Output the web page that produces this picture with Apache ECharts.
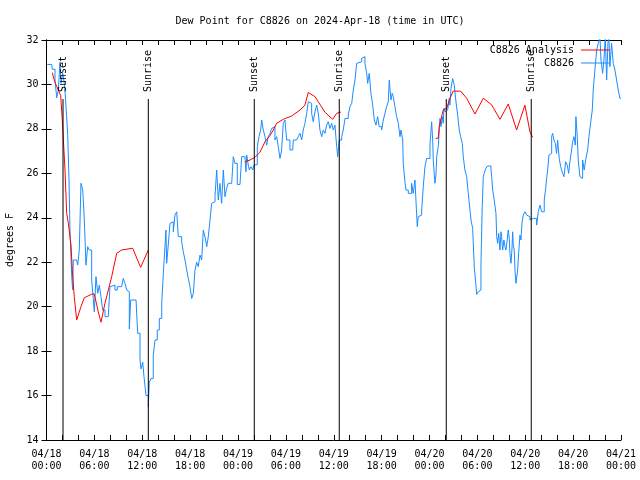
<!DOCTYPE html>
<html>
<head>
<meta charset="utf-8">
<script src="https://cdn.jsdelivr.net/npm/echarts@6/dist/echarts.min.js"></script>
<style>html,body{margin:0;padding:0;background:#fff}#c{width:640px;height:480px}</style>
</head>
<body>
<div id="c"></div>
<script>
// Hours since 2024-04-18 00:00 UTC
const obsHours = [0.10,0.65,0.73,1.07,1.28,1.48,1.69,1.82,2.03,2.23,2.32,2.53,2.66,2.82,2.94,3.16,3.28,3.36,3.78,3.91,4.11,4.32,4.54,4.74,4.95,5.16,5.36,5.66,5.86,5.99,6.20,6.42,6.62,6.83,7.04,7.33,7.74,7.96,8.17,8.58,8.87,9.42,9.62,9.84,10.05,10.25,10.38,10.55,11.22,11.43,11.72,11.84,12.06,12.22,12.47,12.76,12.88,13.10,13.38,13.60,13.88,14.14,14.44,14.64,14.85,14.97,15.06,15.26,15.48,15.69,15.89,16.10,16.32,16.52,16.73,16.94,17.14,17.36,17.57,17.77,17.98,18.20,18.40,18.61,18.82,19.02,19.24,19.45,19.65,19.86,20.08,20.28,20.49,20.70,20.90,21.12,21.33,21.53,21.74,21.95,22.16,22.37,22.58,22.78,23.21,23.41,23.62,23.91,24.25,24.46,24.87,25.00,25.09,25.29,25.41,25.63,25.84,26.00,26.21,26.42,26.63,26.84,26.97,27.17,27.38,27.59,27.79,28.01,28.22,28.42,28.63,28.85,29.05,29.26,29.47,29.67,29.89,30.10,30.51,30.85,30.93,31.35,31.55,31.77,31.98,32.18,32.39,32.61,32.81,33.02,33.23,33.43,33.65,33.86,34.06,34.27,34.49,34.69,34.90,35.11,35.31,35.53,35.74,35.94,36.15,36.37,36.49,36.69,37.00,37.19,37.41,37.82,38.03,38.25,38.45,38.66,38.87,39.07,39.50,39.70,39.91,40.13,40.25,40.45,40.66,40.88,41.08,41.29,41.50,41.70,42.00,42.21,42.42,42.63,42.83,42.96,43.17,43.33,43.46,43.67,43.88,44.09,44.30,44.42,44.64,44.71,44.92,45.05,45.34,45.55,45.76,45.96,46.18,46.30,46.47,46.59,46.80,47.02,47.22,47.43,47.64,47.84,48.06,48.27,48.40,48.47,48.68,48.81,48.90,49.10,49.31,49.44,49.60,49.72,49.81,49.94,50.15,50.28,50.35,50.48,50.56,50.69,50.78,50.90,50.98,51.10,51.32,51.53,51.73,51.90,52.11,52.23,52.44,52.66,52.86,53.07,53.20,53.41,53.48,53.61,53.82,53.91,54.11,54.32,54.45,54.61,54.74,54.86,55.07,55.29,55.49,55.70,55.79,55.92,56.08,56.20,56.33,56.42,56.54,56.67,56.83,56.96,57.04,57.17,57.33,57.46,57.58,57.74,57.87,58.00,58.08,58.21,58.33,58.42,58.50,58.62,58.71,58.83,58.92,59.05,59.17,59.34,59.46,59.59,59.75,59.96,60.18,60.38,60.59,60.80,61.00,61.22,61.43,61.63,61.84,62.06,62.26,62.38,62.56,62.68,62.81,62.97,63.10,63.31,63.43,63.60,63.76,63.93,64.06,64.26,64.44,64.56,64.69,64.85,65.06,65.26,65.44,65.60,65.81,65.94,66.10,66.27,66.35,66.52,66.64,66.85,66.98,67.19,67.39,67.57,67.69,67.82,67.98,68.19,68.40,68.52,68.73,68.95,69.15,69.36,69.49,69.70,69.86,70.03,70.20,70.33,70.45,70.61,70.82,71.03,71.24,71.45,71.65,71.86,71.99];
const obsDew = [30.9,30.9,30.68,30.2,29.4,29.75,31.0,30.05,30.5,30.05,29.7,28.5,27.7,25.7,23.45,21.35,20.75,22.1,22.17,21.87,22.55,25.55,25.25,23.9,21.87,22.7,22.55,21.2,20.37,19.77,21.35,20.6,20.97,20.45,19.85,19.55,19.55,20.9,20.97,20.75,20.9,20.93,21.27,21.05,20.75,20.67,19.0,20.3,20.3,18.8,17.6,17.2,17.5,16.85,16.0,15.5,16.6,16.77,17.8,18.5,18.95,19.47,20.15,21.5,22.7,23.45,21.95,22.77,23.75,23.82,23.37,24.12,24.27,23.15,23.15,22.92,22.47,22.1,21.65,21.27,20.9,20.37,20.6,21.65,22.0,21.8,22.32,22.1,23.45,23.15,22.7,23.15,23.9,24.65,24.72,25.0,26.15,24.8,25.55,24.65,26.15,24.95,25.33,25.55,25.55,26.75,26.45,25.5,25.5,26.75,26.75,26.07,26.82,26.37,26.15,26.3,26.15,26.37,26.4,27.2,27.65,27.95,28.4,27.95,27.65,27.27,27.65,27.8,28.02,28.1,27.5,27.65,27.2,26.67,27.05,28.25,28.4,27.5,27.05,27.05,27.5,27.5,27.65,27.8,27.5,27.95,28.25,28.7,29.22,29.15,28.7,28.32,28.77,29.07,28.7,27.95,27.65,27.95,27.8,28.17,28.32,28.02,28.25,27.95,28.17,27.2,26.75,27.5,27.65,27.95,28.47,28.62,29.0,29.15,29.75,30.2,30.95,31.02,31.17,31.25,30.95,30.5,30.05,30.5,29.6,29.07,28.4,28.17,28.55,28.1,27.95,28.4,28.7,29.0,29.22,30.2,29.3,29.6,29.45,29.0,28.55,28.25,27.65,27.95,27.5,26.45,25.62,25.25,25.1,25.1,25.55,25.1,25.7,24.8,23.6,24.05,24.12,24.35,25.4,26.3,26.67,26.67,27.3,28.32,27.5,26.6,25.55,25.92,26.75,27.2,28.47,28.1,28.55,28.25,28.93,28.77,28.85,28.93,28.77,29.38,29.07,29.82,29.75,30.27,30.35,29.97,29.22,28.62,27.95,27.65,27.35,26.75,26.15,25.85,25.1,24.35,23.9,23.52,22.92,21.8,20.97,20.55,20.67,20.75,21.95,24.5,25.85,26.0,26.23,26.33,26.33,26.23,25.85,25.25,24.87,24.8,24.2,23.15,22.85,23.3,22.55,23.37,23.15,22.55,23.0,22.7,22.55,23.0,23.45,23.07,22.4,21.95,22.55,23.37,22.77,22.55,21.65,21.05,21.05,21.65,22.4,23.22,23.0,23.75,24.12,24.27,24.12,24.05,23.9,23.97,24.05,23.97,23.67,24.27,24.57,24.27,24.27,24.8,25.32,25.77,26.15,26.82,26.9,27.65,27.8,27.5,27.35,26.9,27.5,26.67,26.3,26.15,26.0,25.85,26.52,26.37,26.0,26.52,27.05,27.42,27.65,27.27,28.55,27.65,26.6,25.85,25.77,26.6,26.15,26.6,26.67,27.05,27.65,28.25,28.85,29.75,30.65,31.55,31.85,32.15,31.1,30.5,31.1,32.15,30.2,31.55,32.5,30.8,31.85,30.95,30.65,30.2,29.75,29.38,29.38];

// Analysis (three overnight runs)
const anaHours1 = [0.73,1.03,1.78,1.98,2.32,2.53,2.73,3.07,3.23,3.48,3.78,4.32,4.74,5.66,5.99,6.49,6.83,7.33,8.17,8.80,9.42,10.80,11.80,12.76];
const anaDew1   = [30.53,30.12,29.5,28.4,26.15,24.2,23.77,22.78,21.65,20.45,19.4,20.0,20.4,20.56,20.57,19.77,19.3,20.16,21.35,22.4,22.55,22.63,21.77,22.55];
const anaHours2 = [24.87,25.50,26.13,26.75,27.38,28.01,28.42,28.85,29.67,30.72,31.77,32.39,32.81,33.65,34.06,34.90,35.86,36.37,36.90];
const anaDew2   = [26.52,26.6,26.72,26.95,27.42,27.7,27.95,28.25,28.43,28.58,28.85,29.07,29.64,29.45,29.22,28.75,28.43,28.7,28.76];
const anaHours3 = [48.77,49.10,49.22,49.72,50.15,50.56,50.98,51.90,52.66,53.70,54.74,55.79,56.83,57.87,58.92,59.96,60.59,60.93];
const anaDew3   = [27.58,27.58,28.1,28.85,28.93,29.38,29.7,29.7,29.38,28.67,29.38,29.08,28.43,29.12,27.95,29.07,27.87,27.62];

const sunHours  = [2.07,12.76,26.04,36.69,50.10,60.75];
const sunLabels = ['Sunset','Sunrise','Sunset','Sunrise','Sunset','Sunrise'];

const dayLabels = ['04/18','04/19','04/20','04/21'];

const FONT = 'DejaVu Sans Mono';

const obsData = obsHours.map((h, i) => [h, obsDew[i]]);
const anaData = [];
[[anaHours1, anaDew1], [anaHours2, anaDew2], [anaHours3, anaDew3]].forEach(([hs, vs], k) => {
  if (k > 0) anaData.push([hs[0] - 0.01, null]);
  hs.forEach((h, i) => anaData.push([h, vs[i]]));
});
const sunData = sunHours.map((h, i) => [h, i]);

function xLabel(v) {
  const d = Math.floor(v / 24);
  const h = v - d * 24;
  return dayLabels[d] + '\n' + String(h).padStart(2, '0') + ':00';
}

const chart = echarts.init(document.getElementById('c'), null, {renderer: 'canvas'});
const tickCommon = {show: true, inside: true, length: 5, lineStyle: {color: '#000', width: 1}};
const minorCommon = {show: true, splitNumber: 3, length: 5, lineStyle: {color: '#000', width: 1}};
chart.setOption({
  animation: false,
  backgroundColor: '#fff',
  title: {
    text: 'Dew Point for C8826 on 2024-Apr-18 (time in UTC)',
    left: 'center', top: 11,
    textStyle: {fontFamily: FONT, fontSize: 10, fontWeight: 'normal', color: '#000'}
  },
  legend: {
    orient: 'vertical', right: 30, top: 44, align: 'right', padding: 0,
    itemWidth: 29, itemHeight: 1, itemGap: 1,
    icon: 'rect',
    textStyle: {fontFamily: FONT, fontSize: 10, color: '#000', lineHeight: 12, padding: [0, 2, 0, 0]},
    data: ['C8826 Analysis', 'C8826']
  },
  grid: {left: 46.5, right: 19, top: 40, bottom: 40, containLabel: false, outerBoundsMode: 'none'},
  xAxis: [{
    type: 'value', min: 0, max: 72, interval: 6, position: 'bottom',
    axisLine: {show: true, lineStyle: {color: '#000', width: 1}},
    axisTick: tickCommon, minorTick: minorCommon,
    splitLine: {show: false},
    axisLabel: {show: true, formatter: xLabel, fontFamily: FONT, fontSize: 10, color: '#000', lineHeight: 12.5, margin: 8}
  }, {
    type: 'value', min: 0, max: 72, interval: 6, position: 'top',
    axisLine: {show: true, lineStyle: {color: '#000', width: 1}},
    axisTick: tickCommon, minorTick: minorCommon,
    splitLine: {show: false}, axisLabel: {show: false}
  }],
  yAxis: [{
    type: 'value', min: 14, max: 32, interval: 2, position: 'left',
    name: 'degrees F', nameLocation: 'middle', nameRotate: 90, nameGap: 31,
    nameTextStyle: {fontFamily: FONT, fontSize: 10, color: '#000'},
    axisLine: {show: true, lineStyle: {color: '#000', width: 1}},
    axisTick: tickCommon,
    splitLine: {show: false},
    axisLabel: {fontFamily: FONT, fontSize: 10, color: '#000', margin: 8}
  }, {
    type: 'value', min: 14, max: 32, interval: 2, position: 'right',
    axisLine: {show: true, lineStyle: {color: '#000', width: 1}},
    axisTick: tickCommon,
    splitLine: {show: false}, axisLabel: {show: false}
  }],
  series: [{
    name: 'C8826 Analysis', type: 'line', data: anaData,
    xAxisIndex: 0, yAxisIndex: 0,
    showSymbol: false, symbol: 'none', connectNulls: false,
    lineStyle: {color: '#ff0000', width: 1}, itemStyle: {color: '#ff0000'},
    clip: true, z: 3
  }, {
    name: 'C8826', type: 'line', data: obsData, step: 'end',
    xAxisIndex: 0, yAxisIndex: 0,
    showSymbol: false, symbol: 'none',
    lineStyle: {color: '#1a8cff', width: 1}, itemStyle: {color: '#1a8cff'},
    clip: true, z: 2
  }, {
    name: 'sun', type: 'custom', data: sunData,
    xAxisIndex: 0, yAxisIndex: 0,
    encode: {x: 0, y: 1},
    renderItem: function (params, api) {
      const h = api.value(0);
      const idx = api.value(1);
      const base = api.coord([h, 14]);
      const topY = base[1] - 341;
      return {
        type: 'group',
        children: [{
          type: 'line',
          shape: {x1: base[0], y1: base[1], x2: base[0], y2: topY},
          style: {stroke: '#000', lineWidth: 1}
        }, {
          type: 'text',
          x: base[0], y: topY - 7,
          rotation: Math.PI / 2,
          style: {text: sunLabels[idx], font: '10px ' + FONT, fill: '#000', textAlign: 'left', textVerticalAlign: 'middle'}
        }]
      };
    },
    z: 4
  }]
});
</script>
</body>
</html>
